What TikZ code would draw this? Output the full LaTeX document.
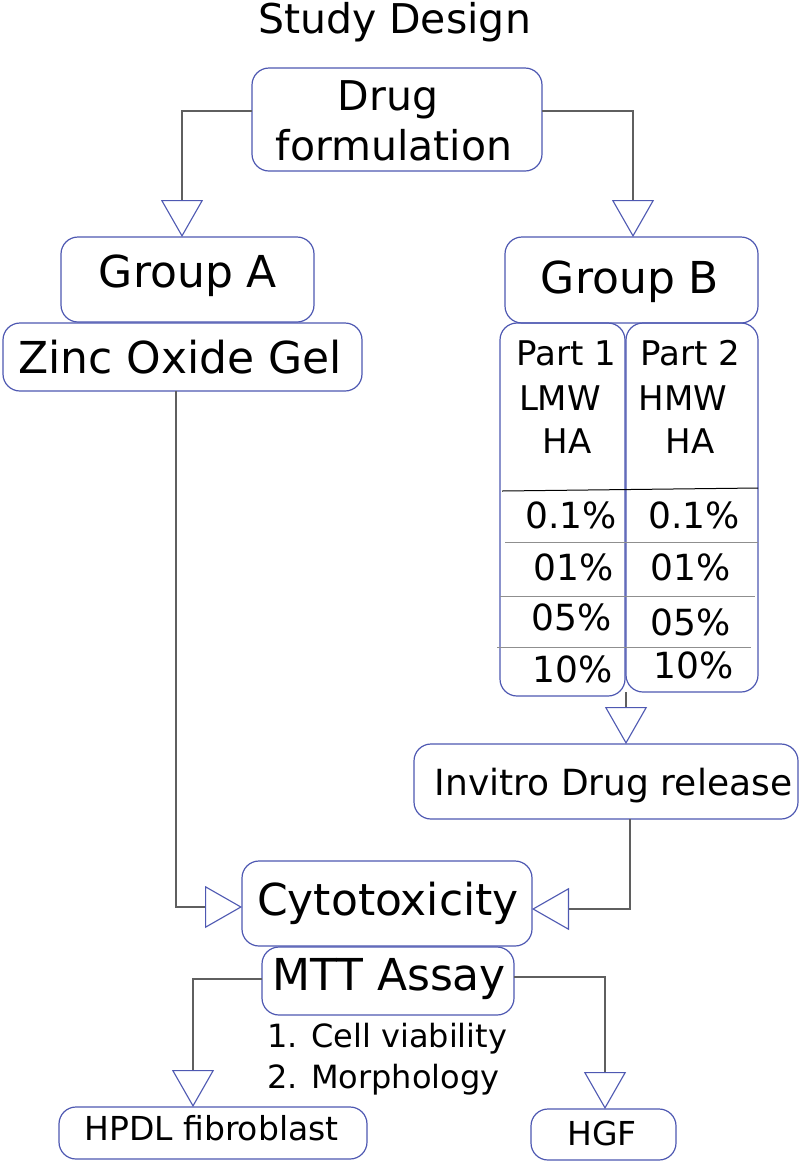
\documentclass[tikz,border=0pt]{standalone}
\usepackage{fontspec}
\setmainfont{DejaVu Sans}
\usetikzlibrary{arrows.meta}
\definecolor{boxblue}{RGB}{78,88,178}
\definecolor{linegray}{RGB}{95,95,95}
\newcommand\fsz[1]{\fontsize{#1pt}{#1pt}\selectfont}
\begin{document}
\begin{tikzpicture}[x=1pt,y=-1pt,
  box/.style={draw=boxblue, line width=1.2pt, rounded corners=17pt, inner sep=0pt, outer sep=0pt},
  t/.style={inner sep=0pt, anchor=base},
  conn/.style={draw=linegray, line width=1.1pt, -{Triangle[length=37pt,width=42pt,color=boxblue,fill=white]}},
  divider/.style={draw=linegray!70, line width=0.8pt}]
\fill[white] (0,0) rectangle (800,1163);
\useasboundingbox (0,0) rectangle (800,1163);

% boxes
\node[box, minimum width=290pt, minimum height=103pt] (drug) at (397,119.5) {};
\node[box, minimum width=253pt, minimum height=85pt] (groupA) at (187.5,279.5) {};
\node[box, minimum width=359pt, minimum height=68pt] (zinc) at (182.5,357) {};
\node[box, minimum width=253pt, minimum height=86pt] (groupB) at (631.5,280) {};
\node[box, minimum width=125pt, minimum height=373pt] (part1) at (562.5,509.5) {};
\node[box, minimum width=132pt, minimum height=369pt] (part2) at (692,507.5) {};
\node[box, minimum width=384pt, minimum height=75pt] (invitro) at (606,781.5) {};
\node[box, minimum width=290pt, minimum height=85pt] (cyto) at (387,903.5) {};
\node[box, minimum width=252pt, minimum height=68pt] (mtt) at (388,981) {};
\node[box, minimum width=308pt, minimum height=52pt] (hpdl) at (213,1133) {};
\node[box, minimum width=145pt, minimum height=51pt] (hgf) at (603.5,1134.5) {};

% table dividers
\draw[black, line width=1pt] (502,491) -- (758,488);
\draw[divider] (505,542) -- (758,542);
\draw[divider] (500,596) -- (755,596);
\draw[divider] (497,647) -- (751,647);

% texts
\node[t, font=\fsz{41}] (title) at (394.5,33) {Study Design};
\node[t, font=\fsz{41}] (drugA) at (388,110) {Drug};
\node[t, font=\fsz{41}] (drugB) at (394,160) {formulation};
\node[t, font=\fsz{44}] (gA) at (188,287) {Group A};
\node[t, font=\fsz{44}] (zincT) at (180,373) {Zinc Oxide Gel};
\node[t, font=\fsz{44}] (gB) at (630,293) {Group B};

\node[t, font=\fsz{34}] (p1a) at (566,365) {Part 1};
\node[t, font=\fsz{34}] (p1b) at (560,410) {LMW};
\node[t, font=\fsz{34}] (p1c) at (567,453) {HA};
\node[t, font=\fsz{34}] (p2a) at (690,365) {Part 2};
\node[t, font=\fsz{34}] (p2b) at (683,410) {HMW};
\node[t, font=\fsz{34}] (p2c) at (690,453) {HA};

\node[t, font=\fsz{36}] (l1) at (571,528) {0.1\%};
\node[t, font=\fsz{36}] (l2) at (574,580) {01\%};
\node[t, font=\fsz{36}] (l3) at (572,630) {05\%};
\node[t, font=\fsz{36}] (l4) at (573,682) {10\%};
\node[t, font=\fsz{36}] (r1) at (694,528) {0.1\%};
\node[t, font=\fsz{36}] (r2) at (691,580) {01\%};
\node[t, font=\fsz{36}] (r3) at (691,635) {05\%};
\node[t, font=\fsz{36}] (r4) at (694,678) {10\%};

\node[t, font=\fsz{36}] (invT) at (613.5,795) {Invitro Drug release};
\node[t, font=\fsz{44}] (cytoT) at (388,915) {Cytotoxicity};
\node[t, font=\fsz{44}] (mttT) at (389,990) {MTT Assay};
\node[t, font=\fsz{32}, anchor=base west] (li1) at (267,1047) {1. Cell viability};
\node[t, font=\fsz{32}, anchor=base west] (li2) at (267,1088) {2. Morphology};
\node[t, font=\fsz{33}] (hpdlT) at (211.5,1140) {HPDL fibroblast};
\node[t, font=\fsz{33}] (hgfT) at (602,1145) {HGF};

% connectors
\draw[conn] ([yshift=8.5pt]drug.west) -| ([xshift=-5.5pt]groupA.north);
\draw[conn] ([yshift=8.5pt]drug.east) -| ([xshift=1.5pt]groupB.north);
\draw[conn] ([xshift=-6.5pt]zinc.south) |- ([yshift=-3.5pt]cyto.west);
\draw[conn] ([xshift=24pt]invitro.south) |- ([yshift=-5.5pt]cyto.east);
\draw[conn] (part2.south west) -- (part2.west |- invitro.north);
\draw[conn] ([yshift=2pt]mtt.west) -| ([xshift=-20pt]hpdl.north);
\draw[conn] ([yshift=4pt]mtt.east) -| ([xshift=1.5pt]hgf.north);
\end{tikzpicture}
\end{document}
